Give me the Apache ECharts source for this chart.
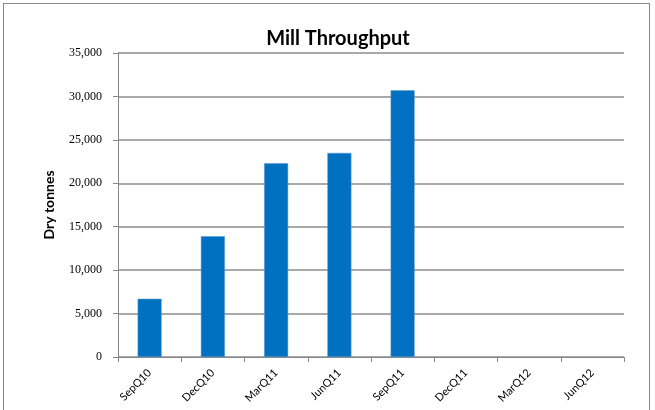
<!DOCTYPE html>
<html>
<head>
<meta charset="utf-8">
<script src="https://cdn.jsdelivr.net/npm/echarts@6/dist/echarts.min.js"></script>
<style>
  html, body { margin: 0; padding: 0; background: #fff; }
  #frame { position: absolute; left: 3px; top: 3px; width: 647px; height: 420px; border: 1px solid #8a8a8a; box-sizing: border-box; }
  #chart { position: absolute; left: 0; top: 0; width: 655px; height: 410px; }
</style>
</head>
<body>
<div id="frame"></div>
<div id="chart"></div>
<script>
// 季度与干吨量
var quarters = ['SepQ10', 'DecQ10', 'MarQ11', 'JunQ11', 'SepQ11', 'DecQ11', 'MarQ12', 'JunQ12'];
var dryTonnes = [6700, 13900, 22300, 23500, 30700, null, null, null];
var yTicks = [0, 5000, 10000, 15000, 20000, 25000, 30000, 35000];

var chart = echarts.init(document.getElementById('chart'));

chart.setOption({
  animation: false,
  title: {
    text: 'Mill Throughput',
    left: 333,
    top: 24,
    textAlign: 'center',
    textStyle: { fontFamily: 'Lato', fontWeight: 'bold', fontSize: 20, color: '#000' }
  },
  grid: { left: 118, right: 31, top: 53, bottom: 53 },
  xAxis: {
    type: 'category',
    data: quarters,
    boundaryGap: true,
    axisLine: { lineStyle: { color: '#888', width: 1 } },
    axisTick: { show: true, alignWithLabel: false, length: 5, lineStyle: { color: '#888' } },
    axisLabel: {
      rotate: 45,
      interval: 0,
      margin: 14,
      fontFamily: 'Lato',
      fontSize: 11,
      color: '#000'
    }
  },
  yAxis: {
    type: 'value',
    min: yTicks[0],
    max: yTicks[yTicks.length - 1],
    interval: 5000,
    name: 'Dry tonnes',
    nameLocation: 'middle',
    nameGap: 62,
    nameRotate: 90,
    nameTextStyle: { fontFamily: 'Lato', fontWeight: 'bold', fontSize: 14, color: '#000' },
    axisLine: { show: true, lineStyle: { color: '#888' } },
    axisTick: { show: true, length: 5, lineStyle: { color: '#888' } },
    axisLabel: {
      margin: 16,
      fontFamily: 'Liberation Serif',
      fontSize: 12,
      color: '#000',
      formatter: function(v) { return v.toLocaleString('en-US'); }
    },
    splitLine: { lineStyle: { color: '#8c8c8c', width: 1.5 } }
  },
  series: [{
    type: 'bar',
    data: dryTonnes,
    barWidth: 24,
    itemStyle: { color: '#0070c0', borderColor: '#5b9bd5', borderWidth: 0.5 }
  }]
});
</script>
</body>
</html>
